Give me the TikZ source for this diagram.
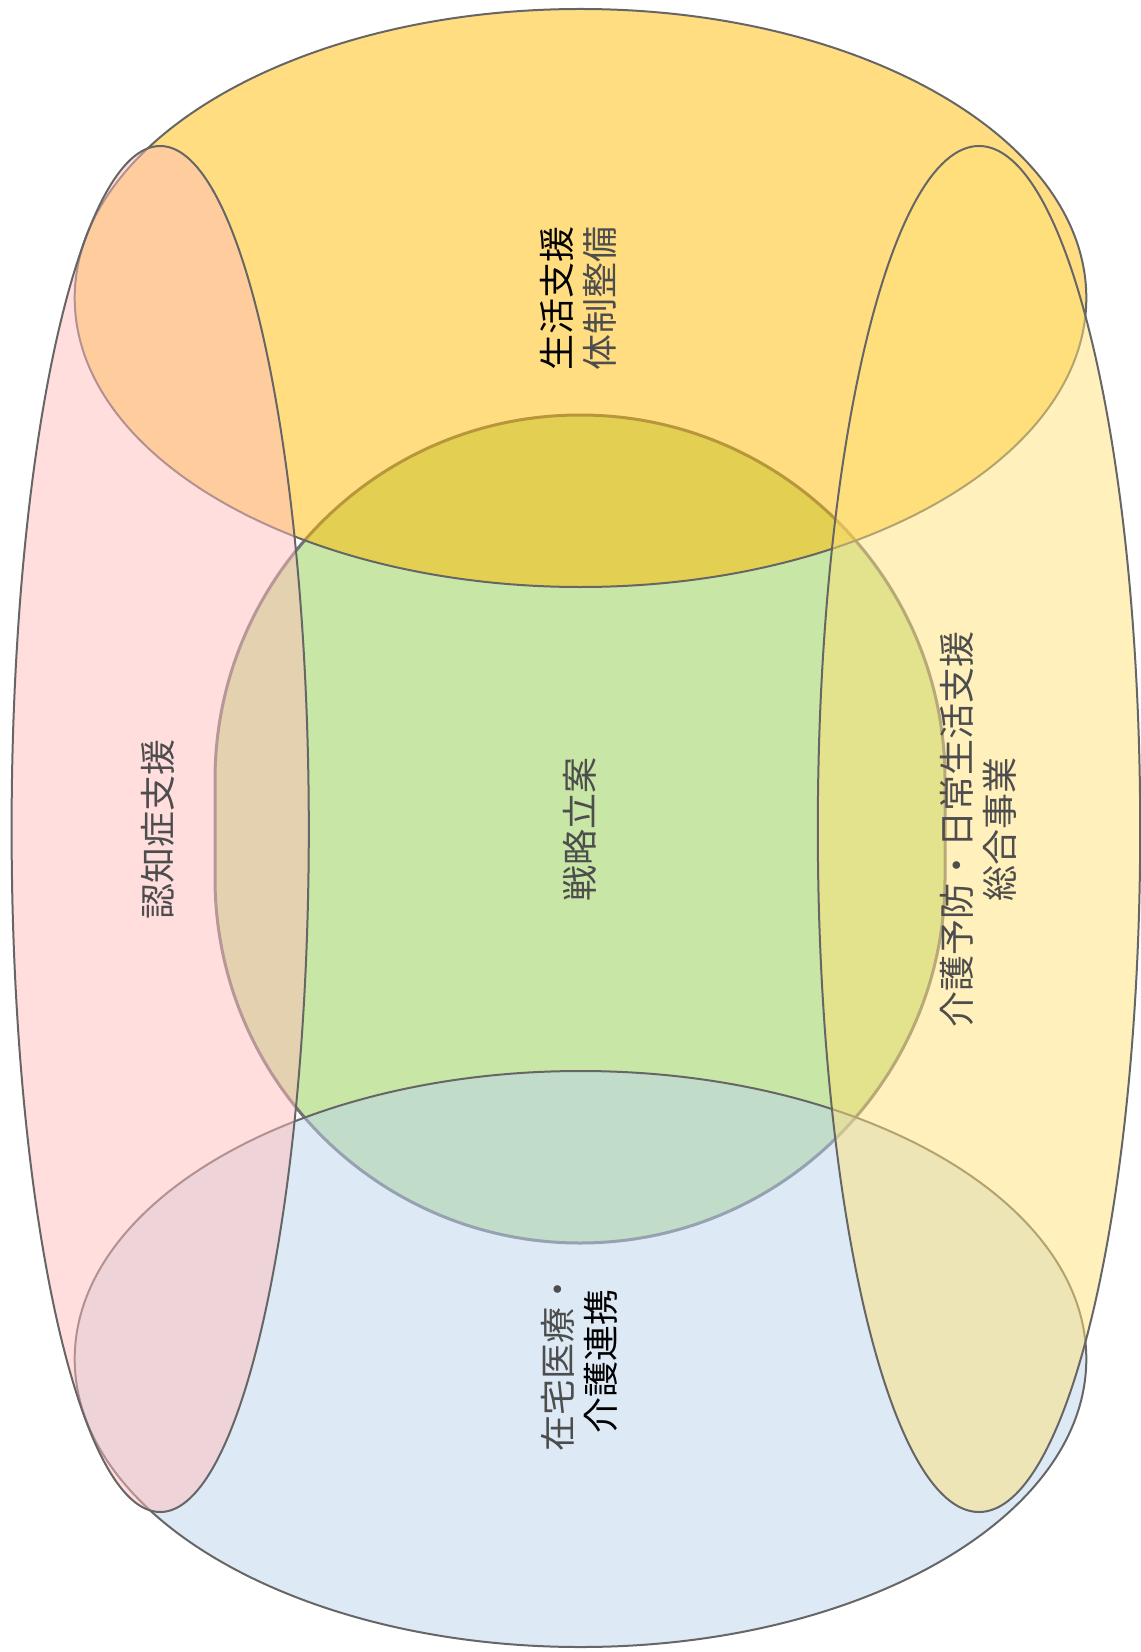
\documentclass[tikz,border=0pt]{standalone}
\usepackage{fontspec}
\usepackage{xcolor}
\usepackage{tikz}
\newfontfamily\jpfont{Noto Sans CJK JP}
\definecolor{strk}{HTML}{666666}
\definecolor{cstrk}{RGB}{113,113,119}
\definecolor{cntr}{HTML}{C8E6A5}
\definecolor{topc}{RGB}{255,187,1}
\definecolor{botc}{RGB}{187,211,235}
\definecolor{lftc}{RGB}{255,189,187}
\definecolor{rgtc}{RGB}{255,225,121}
\definecolor{txtg}{HTML}{4D4D4D}

\begin{document}
\begin{tikzpicture}[x=0.5pt, y=-0.5pt,
  blob/.style={draw=strk, line width=1pt, fill opacity=0.5},
  lbl/.style={rotate=90, align=center, inner sep=0pt, text=txtg,
              font=\jpfont\fontsize{18pt}{21.5pt}\selectfont}]
\useasboundingbox (0,0) rectangle (1140,1652);
\draw[cstrk, line width=1.5pt, fill=cntr] (215,780)
  arc[start angle=180, end angle=0, radius=182.5pt] -- (945,878)
  arc[start angle=0, end angle=-180, radius=182.5pt] -- cycle;
\draw[blob, fill=topc] (580.5,298) ellipse [x radius=252.9pt, y radius=144.5pt];
\draw[blob, fill=botc] (580.5,1359) ellipse [x radius=252.9pt, y radius=144pt];
\draw[blob, fill=lftc] (160.2,829) ellipse [x radius=74.3pt, y radius=341.5pt];
\draw[blob, fill=rgtc] (979,829) ellipse [x radius=80.6pt, y radius=341.5pt];
\node[lbl] (plan) at (580,829) {戦略立案};
\node[lbl] (life) at (578,299) {{\color{black}生活支援}\\体制整備};
\node[lbl] (dem) at (158,829) {認知症支援};
\node[lbl] (prev) at (978,829) {介護予防・日常生活支援\\総合事業};
\node[lbl] (home) at (579,1361) {在宅医療・\\{\color{black}介護連携}};
\end{tikzpicture}
\end{document}
